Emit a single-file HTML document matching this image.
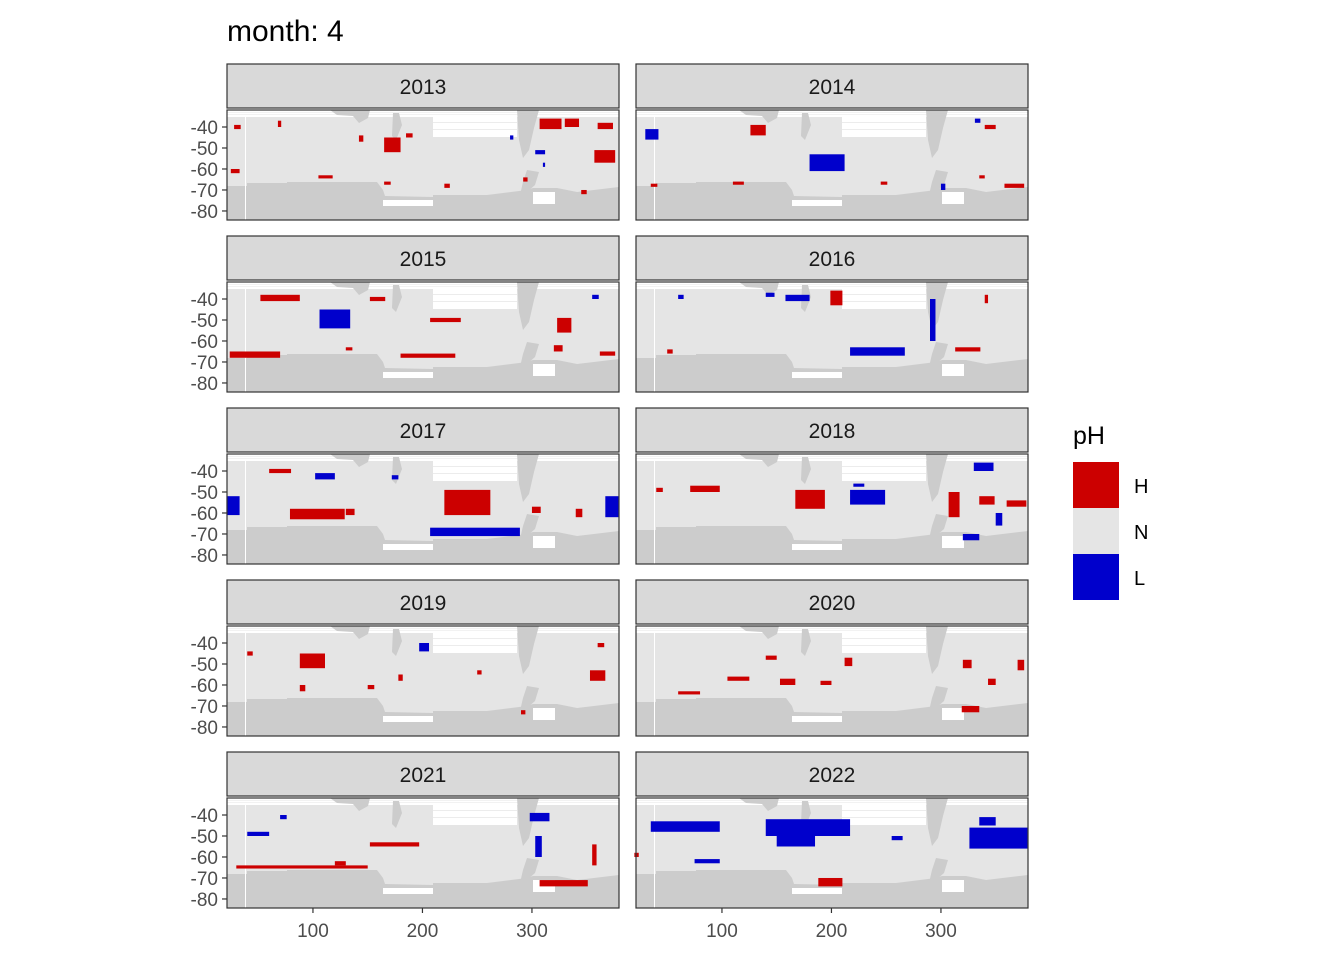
<!DOCTYPE html>
<html><head><meta charset="utf-8"><style>
body{margin:0;background:#fff;}
svg{display:block;font-family:"Liberation Sans",Arial,sans-serif;}
</style></head><body>
<svg id="chart" width="1344" height="960" viewBox="0 0 1344 960">
<text x="227" y="41" font-size="30" fill="#000">month: 4</text>
<g id="panels"></g>
<g>
<text x="1073" y="444" font-size="25" fill="#000">pH</text>
<rect x="1073" y="462" width="46" height="46" fill="#cc0000"/>
<rect x="1073" y="508" width="46" height="46" fill="#e5e5e5"/>
<rect x="1073" y="554" width="46" height="46" fill="#0000cc"/>
<text x="1134" y="493" font-size="20">H</text>
<text x="1134" y="539" font-size="20">N</text>
<text x="1134" y="585" font-size="20">L</text>
</g>
</svg>
<script>
const years=["2013","2014","2015","2016","2017","2018","2019","2020","2021","2022"];
const yTicks=[-40,-50,-60,-70,-80];
const xTicks=[100,200,300];
// anomaly blobs per year: [lonStart, latTop, lonWidth, latHeight, category]
const blobs2013=[[165,-45,15,-7,"H"],[307,-36,20,-5,"H"],[330,-36,13,-4,"H"],[357,-51,19,-6,"H"],[105,-63,13,-1.5,"H"],[165,-66,6,-1.5,"H"],[142,-44,4,-3,"H"],[185,-43,6,-2,"H"],[28,-39,6,-2,"H"],[68,-37,3,-3,"H"],[303,-51,9,-2,"L"],[292,-64,4,-2,"H"],[280,-44,3,-2,"L"],[360,-38,14,-3,"H"],[345,-70,5,-2,"H"],[220,-67,5,-2,"H"],[25,-60,8,-2,"H"],[310,-57,2,-2,"L"]];
const blobs2014=[[180,-53,32,-8,"L"],[358,-67,18,-2,"H"],[126,-39,14,-5,"H"],[340,-39,10,-2,"H"],[30,-41,12,-5,"L"],[331,-36,5,-2,"L"],[110,-66,10,-1.5,"H"],[35,-67,6,-1.5,"H"],[300,-67,4,-3,"L"],[245,-66,6,-1.5,"H"],[335,-63,5,-1.5,"H"]];
const blobs2015=[[323,-49,13,-7,"H"],[24,-65,46,-3,"H"],[52,-38,36,-3,"H"],[106,-45,28,-9,"L"],[207,-49,28,-2,"H"],[180,-66,50,-2,"H"],[362,-65,14,-2,"H"],[152,-39,14,-2,"H"],[355,-38,6,-2,"L"],[320,-62,8,-3,"H"],[130,-63,6,-1.5,"H"]];
const blobs2016=[[199,-36,11,-7,"H"],[158,-38,22,-3,"L"],[217,-63,50,-4,"L"],[313,-63,23,-2,"H"],[290,-40,5,-20,"L"],[140,-37,8,-2,"L"],[60,-38,5,-2,"L"],[50,-64,5,-2,"H"],[340,-38,3,-4,"H"]];
const blobs2017=[[220,-49,42,-12,"H"],[79,-58,50,-5,"H"],[21,-52,12,-9,"L"],[367,-52,12,-10,"L"],[207,-67,82,-4,"L"],[60,-39,20,-2,"H"],[102,-41,18,-3,"L"],[172,-42,6,-2,"L"],[130,-58,8,-3,"H"],[300,-57,8,-3,"H"],[340,-58,6,-4,"H"]];
const blobs2018=[[167,-49,27,-9,"H"],[217,-49,32,-7,"L"],[330,-36,18,-4,"L"],[307,-50,10,-12,"H"],[335,-52,14,-4,"H"],[360,-54,18,-3,"H"],[71,-47,27,-3,"H"],[320,-70,15,-3,"L"],[220,-46,10,-1.5,"L"],[40,-48,6,-2,"H"],[350,-60,6,-6,"L"]];
const blobs2019=[[88,-45,23,-7,"H"],[197,-40,9,-4,"L"],[353,-53,14,-5,"H"],[88,-60,5,-3,"H"],[150,-60,6,-2,"H"],[250,-53,4,-2,"H"],[40,-44,5,-2,"H"],[290,-72,4,-2,"H"],[360,-40,6,-2,"H"],[178,-55,4,-3,"H"]];
const blobs2020=[[153,-57,14,-3,"H"],[343,-57,7,-3,"H"],[319,-70,16,-3,"H"],[212,-47,7,-4,"H"],[105,-56,20,-2,"H"],[320,-48,8,-4,"H"],[370,-48,6,-5,"H"],[190,-58,10,-2,"H"],[140,-46,10,-2,"H"],[60,-63,20,-1.5,"H"]];
const blobs2021=[[307,-71,44,-3,"H"],[30,-64,120,-1.5,"H"],[298,-39,18,-4,"L"],[303,-50,6,-10,"L"],[152,-53,45,-2,"H"],[355,-54,4,-10,"H"],[40,-48,20,-2,"L"],[70,-40,6,-2,"L"],[120,-62,10,-2,"H"]];
const blobs2022=[[326,-46,53,-10,"L"],[335,-41,15,-4,"L"],[140,-42,77,-8,"L"],[150,-50,35,-5,"L"],[35,-43,63,-5,"L"],[75,-61,23,-2,"L"],[188,-70,22,-4,"H"],[255,-50,10,-2,"L"],[20,-58,4,-2,"H"]];
const allBlobs=[blobs2013,blobs2014,blobs2015,blobs2016,blobs2017,blobs2018,blobs2019,blobs2020,blobs2021,blobs2022];

const NS="http://www.w3.org/2000/svg";
const PW=392,PH=110,LON0=21.5,LON1=379.5,LAT0=-31.9,LAT1=-84.3;
const colMap={H:"#cc0000",L:"#0000cc"};
function xs(lon){return (lon-LON0)/(LON1-LON0)*PW;}
function ys(lat){return (lat-LAT0)/(LAT1-LAT0)*PH;}
function mk(tag,attrs,parent){const e=document.createElementNS(NS,tag);for(const k in attrs)e.setAttribute(k,attrs[k]);parent.appendChild(e);return e;}
const root=document.getElementById("panels");
years.forEach((yr,i)=>{
  const col=i%2,row=Math.floor(i/2);
  const px=col?636:227,py=110+row*172;
  const g=mk("g",{transform:`translate(${px},${py})`},root);
  
  
  // strip
  const st=mk("rect",{x:0,y:-46,width:PW,height:44,fill:"#d9d9d9",stroke:"#333","stroke-width":1.2},g);
  
  
  const stt=mk("text",{x:PW/2,y:-16,"text-anchor":"middle","font-size":21,fill:"#1a1a1a"},g);
  stt.textContent=yr;
  
  
  mk("rect",{x:0,y:0,width:PW,height:PH,fill:"#fff"},g);
  mk("rect",{x:0,y:7,width:PW,height:PH-7,fill:"#e5e5e5"},g);
  [2,4].forEach(yy=>mk("rect",{x:0,y:yy,width:PW,height:0.8,fill:"#eeeeee"},g));
  mk("rect",{x:206,y:7,width:84,height:20,fill:"#fff"},g);
  [12,19].forEach(yy=>mk("rect",{x:206,y:yy,width:84,height:1,fill:"#ececec"},g));
  // land
  const land="#cccccc";
  mk("polygon",{points:"103,0 143,0 141,8 132,13 126,6 110,5",fill:land},g);
  mk("polygon",{points:"166,3 172,3 175,15 169,30 165,26",fill:land},g);
  mk("polygon",{points:"290,0 312,0 307,18 302,40 296,48 292,30",fill:land},g);
  mk("polygon",{points:"0,76 20,76 20,73 60,73 60,72 150,72 156,80 158,86 206,87 206,85 260,85 300,80 306,78 330,78 350,82 392,77 392,110 0,110",fill:land},g);
  mk("rect",{x:156,y:90,width:50,height:6,fill:"#fff"},g);
  mk("rect",{x:306,y:82,width:22,height:12,fill:"#fff"},g);
  mk("polygon",{points:"300,60 312,62 308,75 300,82 293,85 296,72",fill:land},g);
  mk("rect",{x:18,y:7,width:1,height:PH-7,fill:"#fff"},g);
  // anomalies
  allBlobs[i].forEach((b,j)=>{
    const x1=xs(b[0]),x2=xs(b[0]+b[2]),y1=ys(b[1]),y2=ys(b[1]+b[3]);
    const r=mk("rect",{x:Math.min(x1,x2),y:Math.min(y1,y2),width:Math.abs(x2-x1),height:Math.abs(y2-y1),fill:colMap[b[4]]},g);
    
    
  });
  const bd=mk("rect",{x:0,y:0,width:PW,height:PH,fill:"none",stroke:"#333","stroke-width":1.2},g);
  
  
  if(col===0){
    yTicks.forEach(t=>{
      const y=ys(t);
      mk("line",{x1:-5,x2:0,y1:y,y2:y,stroke:"#333","stroke-width":1.2},g);
      const tx=mk("text",{x:-9,y:y+7,"text-anchor":"end","font-size":19,fill:"#4d4d4d"},g);
      tx.textContent=t;
      
      
    });
  }
  if(row===4){
    xTicks.forEach(t=>{
      const x=xs(t);
      mk("line",{x1:x,x2:x,y1:PH,y2:PH+5,stroke:"#333","stroke-width":1.2},g);
      const tx=mk("text",{x:x,y:PH+29,"text-anchor":"middle","font-size":19,fill:"#4d4d4d"},g);
      tx.textContent=t;
      
      
    });
  }
});
</script>
</body></html>
